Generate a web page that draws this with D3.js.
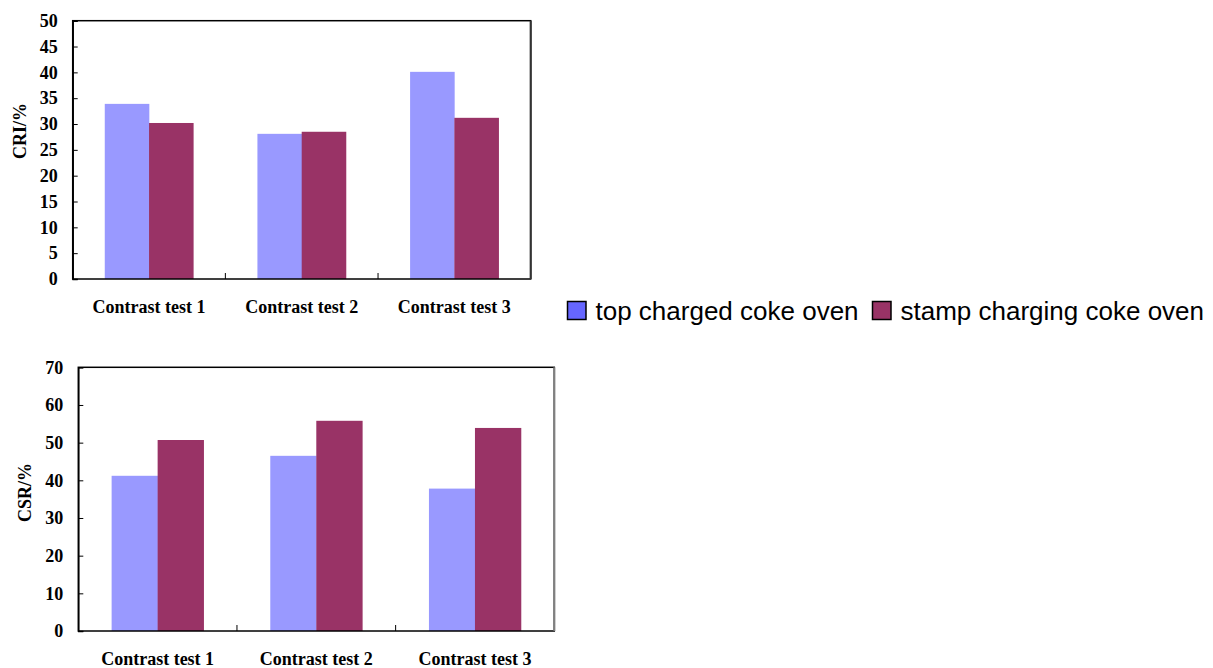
<!DOCTYPE html>
<html>
<head>
<meta charset="utf-8">
<script src="https://cdn.jsdelivr.net/npm/d3@7"></script>
<style>
  html, body { margin: 0; padding: 0; background: #fff; }
  svg { display: block; }
</style>
</head>
<body>
<svg id="chart" width="1213" height="668"></svg>
<script>
// ---- data ----
const categories = ["Contrast test 1", "Contrast test 2", "Contrast test 3"];
const seriesNames = ["top charged coke oven", "stamp charging coke oven"];
const criTop = [33.9, 28.1, 40.1];
const criStamp = [30.2, 28.5, 31.2];
const csrTop = [41.2, 46.5, 37.8];
const csrStamp = [50.7, 55.8, 53.9];
const criTicks = [0, 5, 10, 15, 20, 25, 30, 35, 40, 45, 50];
const csrTicks = [0, 10, 20, 30, 40, 50, 60, 70];

// ---- styles ----
const barColors = ["#9999FF", "#993366"];
const legendColors = ["#6666FF", "#993366"];
const serif = "'Liberation Serif', 'Times New Roman', serif";
const sans = "'Liberation Sans', Arial, sans-serif";

const svg = d3.select("#chart");

function drawPanel(cfg) {
  const { left, right, top, bottom, yMax, ticks, s1, s2, title, titleX, titleY, labelY, rightStroke } = cfg;
  const g = svg.append("g");

  const x = d3.scaleBand().domain(categories).range([left, right])
    .paddingInner(0.42).paddingOuter(0.21);
  const xs = d3.scaleBand().domain([0, 1]).range([0, x.bandwidth()]);
  const y = d3.scaleLinear().domain([0, yMax]).range([bottom, top]);

  const rows = categories.map((c, i) => ({ c, v: [s1[i], s2[i]] }));

  // bars
  g.selectAll("g.grp").data(rows).join("g")
    .attr("transform", d => `translate(${x(d.c)},0)`)
    .selectAll("rect").data(d => d.v.map((v, k) => ({ v, k }))).join("rect")
    .attr("x", d => xs(d.k))
    .attr("width", xs.bandwidth() + 0.3)
    .attr("y", d => y(d.v))
    .attr("height", d => y(0) - y(d.v))
    .attr("fill", d => barColors[d.k]);

  // frame
  g.append("rect")
    .attr("x", left).attr("y", top)
    .attr("width", right - left).attr("height", bottom - top)
    .attr("fill", "none").attr("stroke", "#000").attr("stroke-width", 1.5);
  g.append("line")
    .attr("x1", right).attr("x2", right).attr("y1", top).attr("y2", bottom)
    .attr("stroke", rightStroke).attr("stroke-width", 2);

  // y axis (inside ticks)
  const yAxis = d3.axisLeft(y).tickValues(ticks).tickSize(-5).tickPadding(15).tickFormat(d3.format("d"));
  const ya = g.append("g").attr("transform", `translate(${left},0)`).call(yAxis);
  ya.select(".domain").attr("stroke", "#000").attr("stroke-width", 1.5);
  ya.selectAll(".tick line").attr("stroke", "#000").attr("stroke-width", 1);
  ya.selectAll(".tick text")
    .attr("font-family", serif).attr("font-weight", "bold").attr("font-size", 18).attr("fill", "#000");

  // category separator ticks
  const seps = categories.slice(1).map(c => x(c) - x.step() * x.paddingInner() / 2);
  g.selectAll("line.sep").data(seps).join("line")
    .attr("x1", d => d).attr("x2", d => d)
    .attr("y1", bottom).attr("y2", bottom - 6)
    .attr("stroke", "#000").attr("stroke-width", 1);

  // x labels
  g.selectAll("text.xl").data(categories).join("text")
    .attr("x", d => x(d) + x.bandwidth() / 2)
    .attr("y", labelY)
    .attr("text-anchor", "middle")
    .attr("font-family", serif).attr("font-weight", "bold").attr("font-size", 18)
    .text(d => d);

  // y title
  g.append("text")
    .attr("transform", `translate(${titleX},${titleY}) rotate(-90)`)
    .attr("dy", "0.33em")
    .attr("text-anchor", "middle")
    .attr("font-family", serif).attr("font-weight", "bold").attr("font-size", 18)
    .text(title);
}

drawPanel({
  left: 72.7, right: 530.7, top: 20.7, bottom: 279,
  yMax: 50, ticks: criTicks, s1: criTop, s2: criStamp,
  title: "CRI/%", titleX: 20, titleY: 131, labelY: 312.7, rightStroke: "#333"
});

drawPanel({
  left: 78.3, right: 554.3, top: 367.3, bottom: 631,
  yMax: 70, ticks: csrTicks, s1: csrTop, s2: csrStamp,
  title: "CSR/%", titleX: 25, titleY: 492.5, labelY: 664.5, rightStroke: "#808080"
});

// legend
const legend = svg.append("g").attr("font-family", sans).attr("font-size", 26);
const lx = [567.5, 872.5];
seriesNames.forEach((name, i) => {
  legend.append("rect")
    .attr("x", lx[i]).attr("y", 301.5).attr("width", 18.5).attr("height", 18)
    .attr("fill", legendColors[i]).attr("stroke", "#000").attr("stroke-width", 1.5);
  legend.append("text")
    .attr("x", lx[i] + 28).attr("y", 320)
    .attr("fill", "#000")
    .text(name);
});
</script>
</body>
</html>
